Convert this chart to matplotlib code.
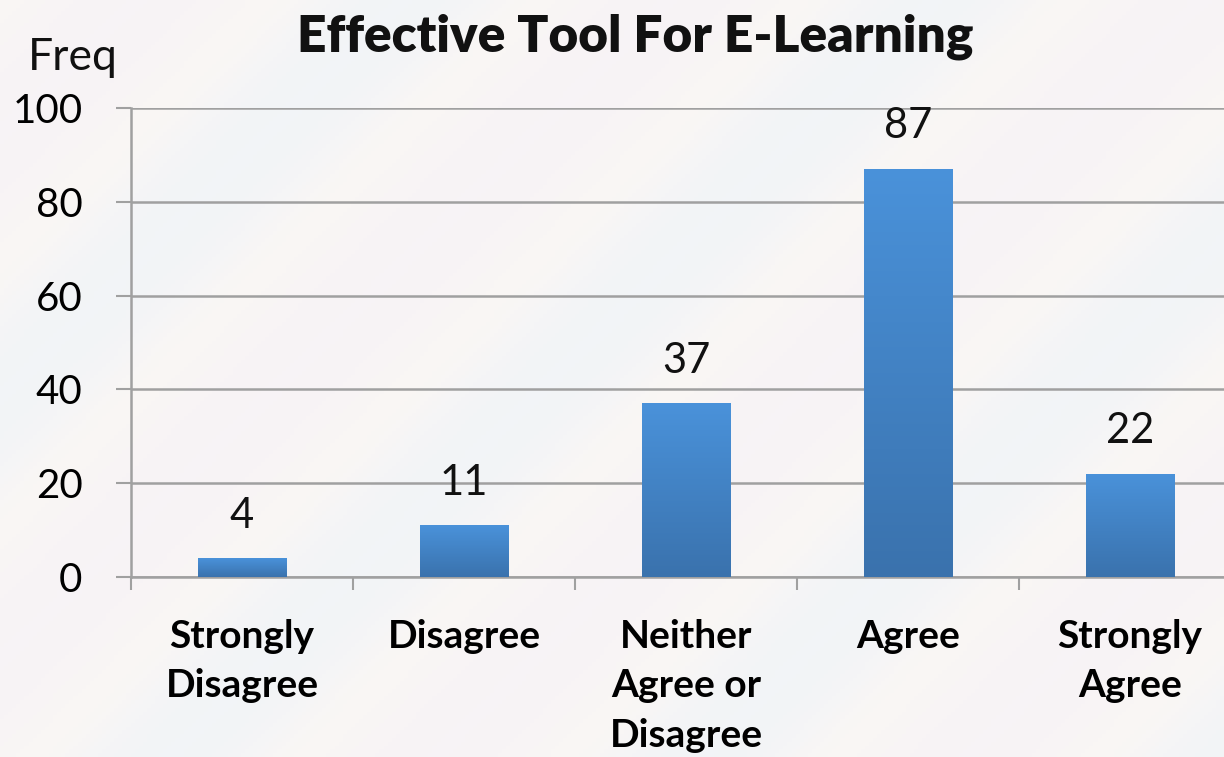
import numpy as np
import matplotlib
matplotlib.use("Agg")
import matplotlib.pyplot as plt
from matplotlib.colors import LinearSegmentedColormap

categories = ["Strongly\nDisagree", "Disagree", "Neither\nAgree or\nDisagree", "Agree", "Strongly\nAgree"]
freq = [4, 11, 37, 87, 22]
y_ticks = [0, 20, 40, 60, 80, 100]

plt.rcParams["font.family"] = ["Lato", "DejaVu Sans"]

fig = plt.figure(figsize=(12.24, 7.57), dpi=100)
fig.patch.set_facecolor("#f8f6f6")

# faint background wash
bg = fig.add_axes([0, 0, 1, 1], zorder=-10)
gx, gy = np.meshgrid(np.linspace(0, 1, 300), np.linspace(0, 1, 200))
wash = 0.5 + 0.5 * np.sin((gx * 1.6 + gy) * 9)
bg_cmap = LinearSegmentedColormap.from_list("bg", ["#f2f4f8", "#fbf7f4", "#f7f3f6"])
bg.imshow(wash, cmap=bg_cmap, aspect="auto", extent=[0, 1, 0, 1], alpha=0.9)
bg.axis("off")

ax = fig.add_axes([131 / 1224, 180 / 757, 1110 / 1224, 469 / 757])
ax.patch.set_alpha(0)

x = np.arange(len(categories))
bars = ax.bar(x, freq, width=0.4, color="#4589cc", zorder=3)

bar_cmap = LinearSegmentedColormap.from_list("bar", ["#3a72ad", "#4a92da"])
grad = np.linspace(0, 1, 256).reshape(-1, 1)
for b in bars:
    bx, by = b.get_x(), b.get_y()
    im = ax.imshow(grad, cmap=bar_cmap, origin="lower", aspect="auto",
                   extent=[bx, bx + b.get_width(), by, by + b.get_height()], zorder=4)
    im.set_clip_path(b)

for xi, v in zip(x, freq):
    ax.annotate(str(v), (xi, v), xytext=(0, 17), textcoords="offset points",
                ha="center", va="bottom", fontsize=30, color="#111111")

ax.set_xlim(-0.5, len(categories) - 0.5)
ax.set_ylim(0, 100)
ax.set_yticks(y_ticks)
ax.set_yticklabels([str(t) for t in y_ticks], fontsize=29)
ax.set_xticks(x)
ax.set_xticklabels(categories, fontsize=28, fontweight="bold", linespacing=1.5)
ax.set_xticks(np.arange(-0.5, len(categories), 1), minor=True)

ax.tick_params(axis="x", which="major", length=0, pad=30)
ax.tick_params(axis="x", which="minor", length=9, width=1.5, color="#a0a0a0", direction="out")
ax.tick_params(axis="y", which="major", length=11, width=1.5, color="#a0a0a0", pad=24)

ax.grid(axis="y", color="#a0a0a0", linewidth=1.8, zorder=0)
ax.set_axisbelow(True)
for side in ["top", "right"]:
    ax.spines[side].set_visible(False)
for side in ["left", "bottom"]:
    ax.spines[side].set_color("#a0a0a0")
    ax.spines[side].set_linewidth(1.8)

fig.text(635 / 1224, 1 - 52 / 757, "Effective Tool For E-Learning", ha="center", va="baseline",
         fontsize=37, fontweight="heavy", color="#111111")
fig.text(28 / 1224, 1 - 70 / 757, "Freq", ha="left", va="baseline", fontsize=32, color="#111111")

fig.savefig("out.png", dpi=100, facecolor=fig.get_facecolor())
